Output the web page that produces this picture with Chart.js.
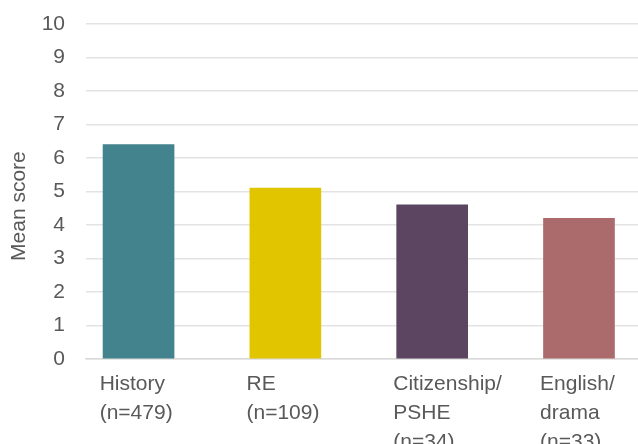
<!DOCTYPE html>
<html>
<head>
<meta charset="utf-8">
<script src="https://cdn.jsdelivr.net/npm/chart.js@4.4.1/dist/chart.umd.min.js"></script>
<style>
  html, body { margin: 0; padding: 0; background: #fff; }
  #wrap { width: 638px; height: 444px; }
</style>
</head>
<body>
<div id="wrap"><canvas id="barChart"></canvas></div>
<script>
// data
const categories = [
  ["History", "(n=479)"],
  ["RE", "(n=109)"],
  ["Citizenship/", "PSHE", "(n=34)"],
  ["English/", "drama", "(n=33)"]
];
const meanScores = [6.4, 5.1, 4.6, 4.2];
const barColors = ["#43838d", "#e0c500", "#5c4561", "#ab6a6b"];
const yTicks = [0, 1, 2, 3, 4, 5, 6, 7, 8, 9, 10];

const textColor = "#595959";
const font = { family: "'Liberation Sans', Arial, sans-serif", size: 21 };

var ctx = document.getElementById("barChart").getContext("2d");
var barChart = new Chart(ctx, {
  type: "bar",
  data: {
    datasets: [
      {
        label: "Mean score",
        data: meanScores.map((v, i) => ({ x: i, y: v })),
        backgroundColor: barColors,
        borderWidth: 0,
        barThickness: 71,
      },
    ],
  },
  options: {
    responsive: true,
    maintainAspectRatio: false,
    animation: false,
    layout: { padding: { top: 24, right: 0, bottom: 0, left: 0 } },
    plugins: {
      legend: { display: false },
      tooltip: { enabled: false },
    },
    scales: {
      x: {
        type: "linear",
        offset: false,
        min: -0.358,
        max: 3.402,
        grid: { display: false, drawTicks: false, offset: false },
        border: { display: true, color: "#d9d9d9", width: 1.5 },
        afterBuildTicks: (scale) => {
          // put each label at the left edge of its bar
          scale.ticks = categories.map((c, i) => ({ value: i - 0.265 }));
        },
        afterFit: (scale) => {
          scale.height = 85;
          scale.paddingRight = 0;
        },
        ticks: {
          align: "start",
          maxRotation: 0,
          autoSkip: false,
          padding: 11,
          color: textColor,
          font: Object.assign({ lineHeight: 1.38 }, font),
          callback: (value, index) => categories[index],
        },
      },
      y: {
        min: 0,
        max: 10,
        afterBuildTicks: (scale) => {
          scale.ticks = yTicks.map((v) => ({ value: v }));
        },
        afterFit: (scale) => {
          scale.width = 86;
          scale.paddingTop = 0;
          scale.paddingBottom = 0;
        },
        grid: { color: "#e3e3e3", lineWidth: 1.5, drawTicks: false },
        border: { display: false },
        ticks: {
          padding: 21,
          color: textColor,
          font: font,
        },
        title: {
          display: true,
          text: "Mean score     ", // trailing spaces nudge the title down a bit
          color: textColor,
          font: font,
          padding: { top: 7, bottom: 0 },
        },
      },
    },
  },
});
</script>
</body>
</html>
